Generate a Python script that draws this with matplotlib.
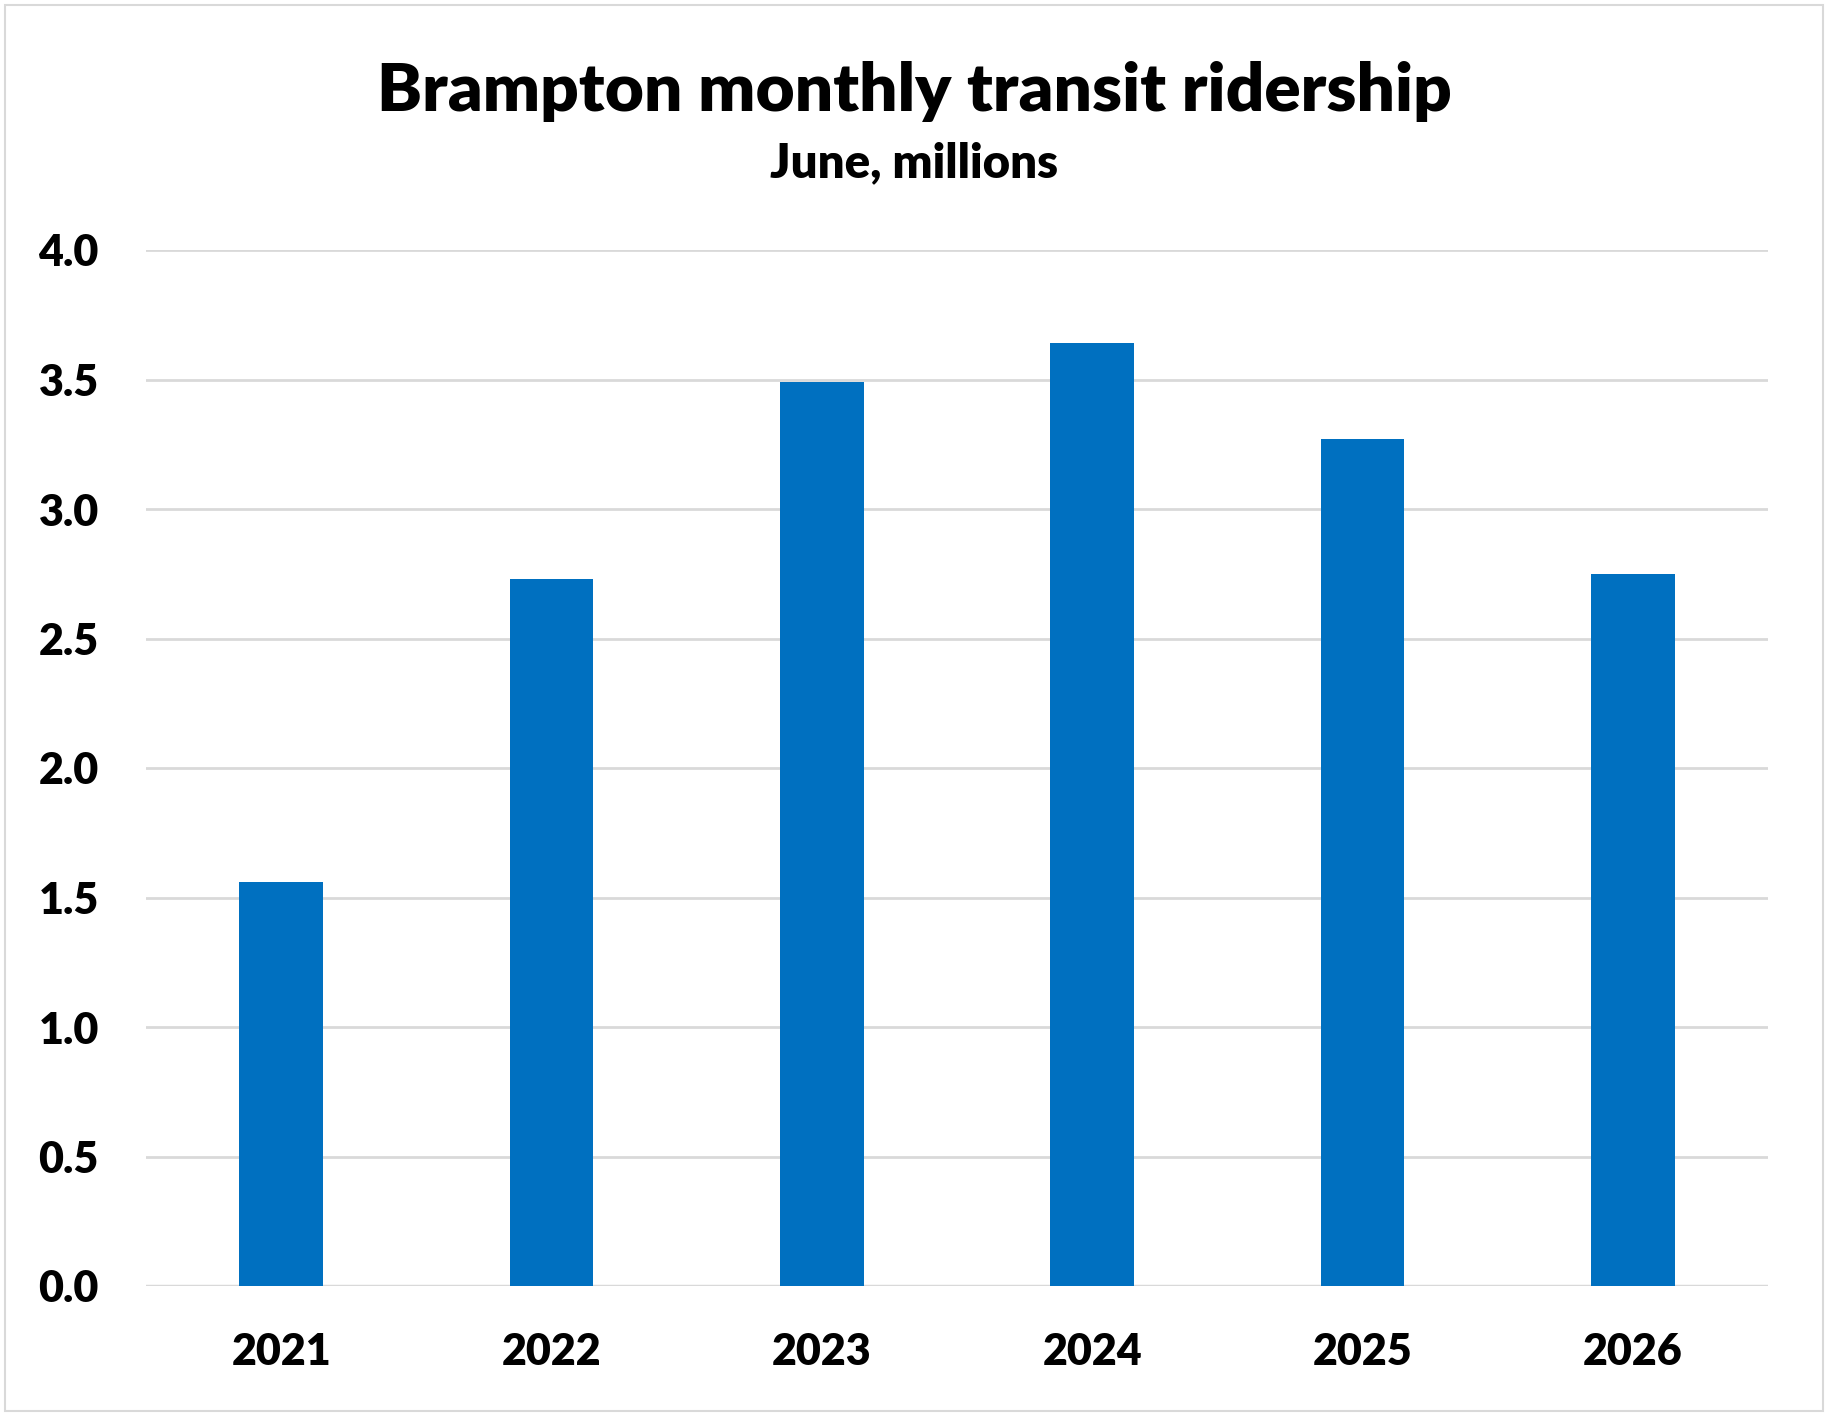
import matplotlib.pyplot as plt
from matplotlib.patches import Rectangle

years = ["2021", "2022", "2023", "2024", "2025", "2026"]
riders = [1.56, 2.73, 3.49, 3.64, 3.27, 2.75]
yticks = [0.0, 0.5, 1.0, 1.5, 2.0, 2.5, 3.0, 3.5, 4.0]

plt.rcParams['font.family'] = ['Lato', 'DejaVu Sans']
WT = 'heavy'

W, H = 1828, 1416
fig = plt.figure(figsize=(W / 100, H / 100), dpi=100)

# chart frame
fig.patches.append(Rectangle((5 / W, 5 / H), 1 - 10 / W, 1 - 10 / H,
                             transform=fig.transFigure, fill=False,
                             edgecolor='#d9d9d9', linewidth=1.5))

ax = fig.add_axes([146 / W, 1 - 1286 / H, (1768 - 146) / W, (1286 - 250) / H])
x = range(len(years))
ax.bar(x, riders, width=0.31, color='#0070c0', zorder=3)

ax.set_xlim(-0.5, len(years) - 0.5)
ax.set_ylim(0, 4.0)
ax.set_yticks(yticks)
ax.set_yticklabels([f"{v:.1f}" for v in yticks])
ax.set_xticks(list(x))
ax.set_xticklabels(years)
ax.tick_params(axis='both', length=0, labelsize=31, colors='black')
ax.tick_params(axis='x', pad=33)
ax.tick_params(axis='y', pad=34)
for lbl in ax.get_xticklabels() + ax.get_yticklabels():
    lbl.set_fontweight(WT)

ax.grid(axis='y', color='#d9d9d9', linewidth=2, zorder=0)
ax.set_axisbelow(True)
for s in ax.spines.values():
    s.set_visible(False)
ax.axhline(0, color='#d9d9d9', linewidth=2.5, zorder=2)

fig.text(0.5, 1 - 91 / H, "Brampton monthly transit ridership", ha='center',
         va='center', fontsize=48.5, fontweight=WT)
fig.text(0.5, 1 - 163 / H, "June, millions", ha='center', va='center',
         fontsize=34, fontweight=WT)

fig.savefig("out.png", dpi=100)
